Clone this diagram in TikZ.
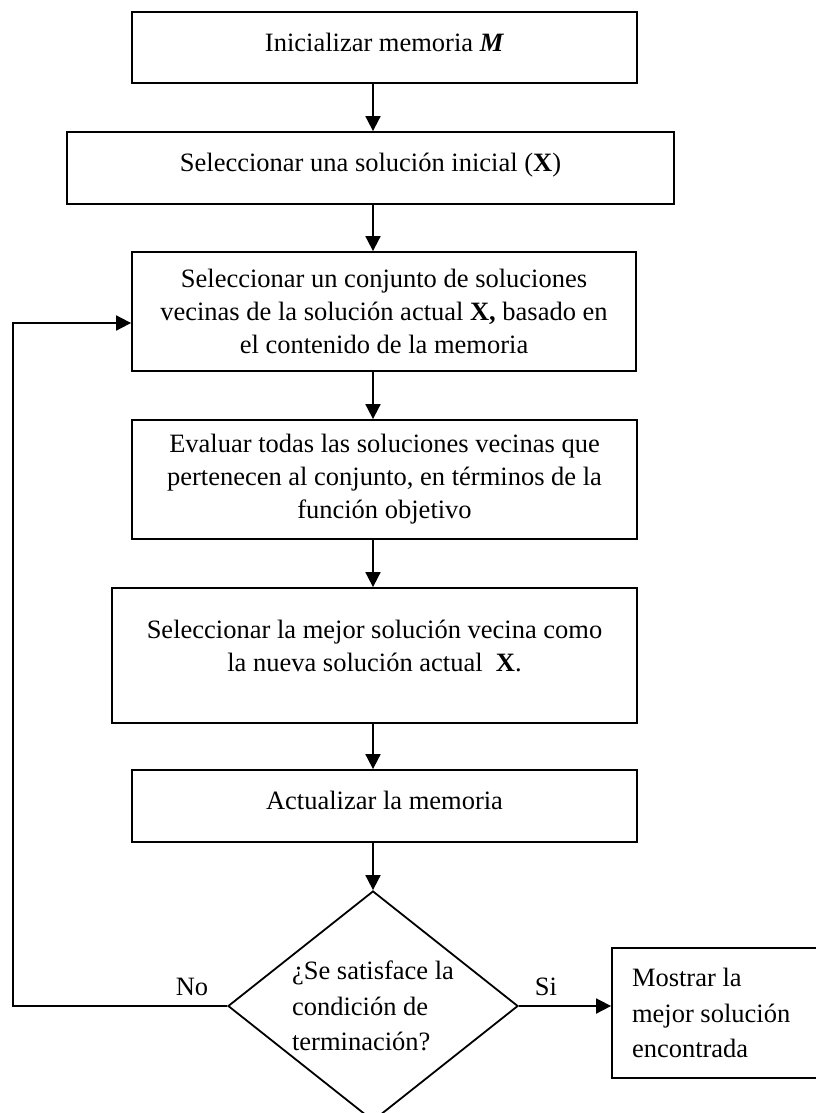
\documentclass[tikz,border=0pt]{standalone}
\usepackage{fontspec}
\setmainfont{Liberation Serif}
\usetikzlibrary{shapes.geometric,arrows.meta}

\begin{document}
\begin{tikzpicture}[x=1pt,y=-1pt,
  line width=1.8pt,
  every node/.style={font=\fontsize{26.5}{33}\selectfont},
  stepbox/.style={draw, rectangle, align=center, inner sep=0pt},
  raised/.style={text height=19pt, text depth=11.5pt},
  flow/.style={-{Triangle[length=15pt,width=15pt]}, line join=miter},
  decision/.style={draw, diamond, aspect=1.26, inner sep=0pt,
    minimum width=290pt, minimum height=230pt, align=flush left,
    font=\fontsize{26.5}{35.5}\selectfont},
  endbox/.style={draw, rectangle, align=flush left, inner xsep=20pt, inner ysep=0pt,
    text width=170pt, minimum height=130pt,
    font=\fontsize{26.5}{35.5}\selectfont},
  lbl/.style={inner sep=0pt}]

\useasboundingbox (0,0) rectangle (816,1113);
\clip (0,0) rectangle (816,1113);

% process boxes
\node[stepbox, raised, minimum width=505pt, minimum height=71pt] (init) at (384.5,47.5)
  {Inicializar memoria \textbf{\textit{M}}};
\node[stepbox, raised, minimum width=607pt, minimum height=72pt] (start) at (370.5,168)
  {Seleccionar una solución inicial (\textbf{X})};
\node[stepbox, minimum width=504pt, minimum height=119pt] (neigh) at (384,311.5)
  {Seleccionar un conjunto de soluciones\\
   vecinas de la solución actual \textbf{X,} basado en\\
   el contenido de la memoria};
\node[stepbox, minimum width=505pt, minimum height=119pt] (eval) at (384.5,479.5)
  {Evaluar todas las soluciones vecinas que\\
   pertenecen al conjunto, en términos de la\\
   función objetivo};
\node[stepbox, minimum width=525pt, minimum height=135pt] (best) at (374.5,655.5)
  {Seleccionar la mejor solución vecina como\\
   la nueva solución actual\ \ \textbf{X}.\\[-14pt]\mbox{}};
\node[stepbox, raised, minimum width=505pt, minimum height=72pt] (update) at (384.5,806)
  {Actualizar la memoria};

% decision and output
\node[decision] (dec) at (373,1006)
  {¿Se satisface la\\condición de\\terminación?};
\node[endbox] (show) at (717,1013)
  {Mostrar la\\mejor solución\\encontrada};

\node[lbl] (no) at (192,987) {No};
\node[lbl] (si) at (546,987) {Si};

% main flow
\coordinate (axis) at (373,0);
\draw[flow] (init.south -| axis) -- (start.north -| axis);
\draw[flow] (start.south -| axis) -- (neigh.north -| axis);
\draw[flow] (neigh.south -| axis) -- (eval.north -| axis);
\draw[flow] (eval.south -| axis) -- (best.north -| axis);
\draw[flow] (best.south -| axis) -- (update.north -| axis);
\draw[flow] (update.south -| axis) -- (dec.north);
\draw[flow] (dec.east) -- (show.west |- dec.east);

% loop back when the stop condition fails
\coordinate (lb) at (13,1006);
\coordinate (lt) at (13,323);
\draw[flow] (dec.west) -- (lb) -- (lt) -- (lt -| neigh.west);
\end{tikzpicture}
\end{document}
